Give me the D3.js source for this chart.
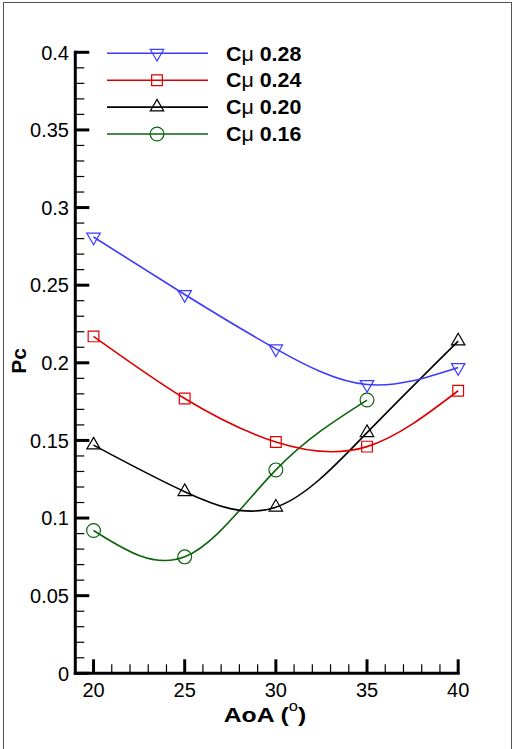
<!DOCTYPE html>
<html>
<head>
<meta charset="utf-8">
<script src="https://cdn.jsdelivr.net/npm/d3@7"></script>
<style>
  html, body { margin: 0; padding: 0; background: #fff; }
  svg { display: block; font-family: "Liberation Sans", Arial, sans-serif; }
</style>
</head>
<body>
<svg id="chart" width="513" height="749"></svg>
<script>
// Angle of attack (degrees)
const aoa = [20, 25, 30, 35, 40];

// Pc values per momentum coefficient
const pc028 = [0.281, 0.244, 0.209, 0.186, 0.197];
const pc024 = [0.217, 0.177, 0.149, 0.146, 0.182];
const pc020 = [0.147, 0.117, 0.107, 0.155, 0.214];
const pc016 = [0.092, 0.075, 0.131, 0.176];

const seriesLabels = ["0.28", "0.24", "0.20", "0.16"];
const seriesColors = ["#3b3bff", "#e00000", "#000000", "#0b640b"];
const seriesShapes = ["down", "square", "up", "circle"];

const xTicksMajor = [20, 25, 30, 35, 40];
const yTicksMajor = [0, 0.05, 0.1, 0.15, 0.2, 0.25, 0.3, 0.35, 0.4];
const yTickLabels = ["0", "0.05", "0.1", "0.15", "0.2", "0.25", "0.3", "0.35", "0.4"];

const series = [pc028, pc024, pc020, pc016].map((vals, i) => ({
  label: seriesLabels[i],
  color: seriesColors[i],
  shape: seriesShapes[i],
  points: vals.map((v, j) => ({ x: aoa[j], y: v }))
}));

const svg = d3.select("#chart");

// Outer frame
svg.append("rect")
  .attr("x", 3.5).attr("y", 2.5)
  .attr("width", 508).attr("height", 760)
  .attr("fill", "none").attr("stroke", "#555").attr("stroke-width", 1);

const x = d3.scaleLinear().domain([19, 40.1]).range([75.3, 460]);
const y = d3.scaleLinear().domain([0, 0.4]).range([673.3, 52.3]);

// Minor ticks
const xMinor = d3.range(20, 40.01, 1).filter(v => v % 5 !== 0);
const yMinor = d3.range(0, 0.4001, 0.01).filter(v => Math.abs(Math.round(v * 100) % 5) !== 0);

const tickG = svg.append("g").attr("stroke", "#000");
tickG.selectAll(".xminor").data(xMinor).join("line")
  .attr("x1", d => x(d)).attr("x2", d => x(d))
  .attr("y1", y(0)).attr("y2", y(0) - 9).attr("stroke-width", 1.2);
tickG.selectAll(".yminor").data(yMinor).join("line")
  .attr("y1", d => y(d)).attr("y2", d => y(d))
  .attr("x1", x(19)).attr("x2", x(19) + 9).attr("stroke-width", 1.2);
tickG.selectAll(".xmajor").data(xTicksMajor).join("line")
  .attr("x1", d => x(d)).attr("x2", d => x(d))
  .attr("y1", y(0)).attr("y2", y(0) - 14).attr("stroke-width", 3);
tickG.selectAll(".ymajor").data(yTicksMajor).join("line")
  .attr("y1", d => y(d)).attr("y2", d => y(d))
  .attr("x1", x(19)).attr("x2", x(19) + 14).attr("stroke-width", 3);

// Axis lines
svg.append("line")
  .attr("x1", x(19)).attr("x2", x(19))
  .attr("y1", y(0.4) - 1.5).attr("y2", y(0) + 1.5)
  .attr("stroke", "#000").attr("stroke-width", 3);
svg.append("line")
  .attr("x1", x(19) - 1.5).attr("x2", x(40) + 1.5)
  .attr("y1", y(0)).attr("y2", y(0))
  .attr("stroke", "#000").attr("stroke-width", 3);

// Tick labels
svg.append("g").selectAll("text").data(yTicksMajor).join("text")
  .attr("x", 69).attr("y", d => y(d))
  .attr("dy", "0.36em")
  .attr("text-anchor", "end")
  .attr("font-size", 20)
  .text((d, i) => yTickLabels[i]);
svg.append("g").selectAll("text").data(xTicksMajor).join("text")
  .attr("x", d => x(d)).attr("y", 697)
  .attr("text-anchor", "middle")
  .attr("font-size", 20)
  .text(d => d);

// Axis titles
const xt = svg.append("text")
  .attr("transform", "translate(265,722) scale(1.18,1)")
  .attr("text-anchor", "middle")
  .attr("font-size", 21).attr("font-weight", "bold");
xt.append("tspan").text("AoA (");
xt.append("tspan").attr("font-size", 14).attr("dy", -11).attr("font-weight", "normal").text("o");
xt.append("tspan").attr("dy", 11).text(")");

svg.append("text")
  .attr("transform", "translate(26,361) rotate(-90)")
  .attr("text-anchor", "middle")
  .attr("font-size", 21).attr("font-weight", "bold")
  .text("Pc");

// Marker factory
function marker(sel, shape, color) {
  let sym;
  if (shape === "down") sym = d3.symbol(d3.symbolTriangle, 78);
  else if (shape === "up") sym = d3.symbol(d3.symbolTriangle, 78);
  else if (shape === "square") sym = d3.symbol(d3.symbolSquare, 115);
  else sym = d3.symbol(d3.symbolCircle, 150);
  sel.append("path")
    .attr("d", sym())
    .attr("transform", shape === "down" ? "rotate(180)" : null)
    .attr("fill", "none")
    .attr("stroke", color)
    .attr("stroke-width", 1.2);
}

// Curves
const line = d3.line()
  .x(d => x(d.x)).y(d => y(d.y))
  .curve(d3.curveNatural);

const plot = svg.append("g");
series.slice().reverse().forEach(s => {
  plot.append("path")
    .datum(s.points)
    .attr("d", line)
    .attr("fill", "none")
    .attr("stroke", s.color)
    .attr("stroke-width", 1.6);
  s.points.forEach(p => {
    const g = plot.append("g").attr("transform", `translate(${x(p.x)},${y(p.y)})`);
    marker(g, s.shape, s.color);
  });
});

// Legend
const legend = svg.append("g");
series.forEach((s, i) => {
  const ly = 53.3 + i * 26.9;
  legend.append("line")
    .attr("x1", 107).attr("x2", 208)
    .attr("y1", ly).attr("y2", ly)
    .attr("stroke", s.color).attr("stroke-width", 1.6);
  const g = legend.append("g").attr("transform", `translate(157,${ly})`);
  marker(g, s.shape, s.color);
  const t = legend.append("text")
    .attr("transform", `translate(226,${ly}) scale(1.07,1)`)
    .attr("dy", "0.36em")
    .attr("font-size", 20).attr("font-weight", "bold");
  t.append("tspan").text("C");
  t.append("tspan").attr("font-weight", "normal").text("\u03bc");
  t.append("tspan").text(" " + s.label);
});
</script>
</body>
</html>
